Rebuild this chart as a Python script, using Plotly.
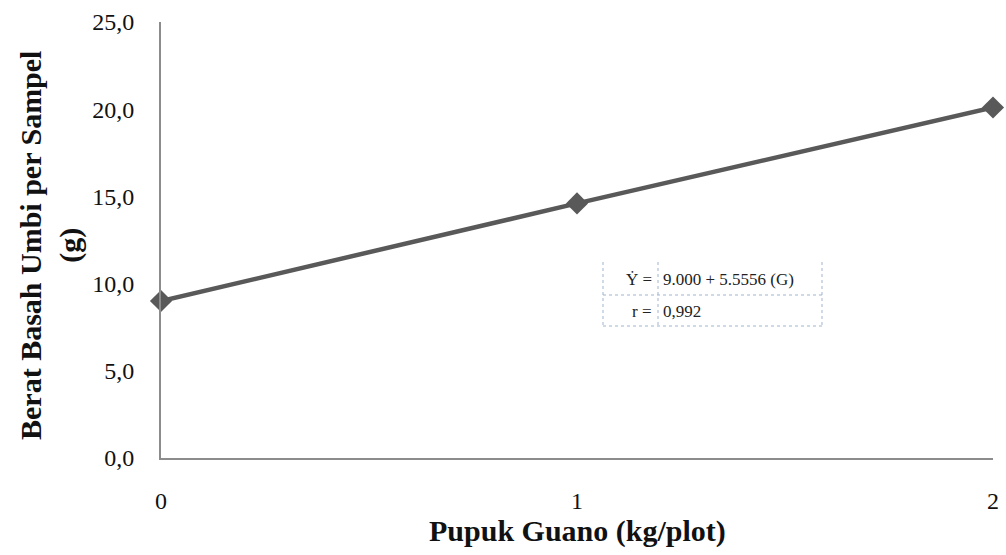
import plotly.graph_objects as go

x_vals = [0, 1, 2]
y_vals = [9.0, 14.6, 20.1]
y_ticks = [0, 5, 10, 15, 20, 25]
x_ticks = [0, 1, 2]
x_title = "Pupuk Guano (kg/plot)"
y_title = "Berat Basah Umbi per Sampel<br>(g)"
eq_label = "Ẏ ="
eq_text = "9.000 + 5.5556 (G)"
r_label = "r ="
r_text = "0,992"

SERIF = "Liberation Serif"
W, H = 1006, 555
L, R, T, B = 161, 13, 22, 97
pw, ph = W - L - R, H - T - B

def px(xp):
    return (xp - L) / pw

def py(yp):
    return (H - B - yp) / ph

fig = go.Figure()
fig.add_trace(go.Scatter(
    x=x_vals, y=y_vals, mode="lines+markers",
    line=dict(color="#595959", width=4.5),
    marker=dict(symbol="diamond", size=17, color="#595959"),
    cliponaxis=False, showlegend=False,
))

# table
tcol = "#9fb4cf"
x0, x1, xm = px(603), px(822), px(658)
y0, y1, ym = py(262), py(326), py(295)
shapes = []
for xx in (x0, xm, x1):
    shapes.append(dict(type="line", xref="paper", yref="paper", x0=xx, x1=xx, y0=y0, y1=y1,
                       line=dict(color=tcol, width=1, dash="dot")))
for yy in (ym, y1):
    shapes.append(dict(type="line", xref="paper", yref="paper", x0=x0, x1=x1, y0=yy, y1=yy,
                       line=dict(color=tcol, width=1, dash="dot")))
fig.update_layout(shapes=shapes)

tf = dict(family=SERIF, size=17, color="#222222")
fig.add_annotation(xref="paper", yref="paper", x=px(654), y=py(279), text=eq_label,
                   showarrow=False, xanchor="right", yanchor="middle", font=tf)
fig.add_annotation(xref="paper", yref="paper", x=px(661), y=py(279), text=eq_text,
                   showarrow=False, xanchor="left", yanchor="middle", font=tf)
fig.add_annotation(xref="paper", yref="paper", x=px(654), y=py(311), text=r_label,
                   showarrow=False, xanchor="right", yanchor="middle", font=tf)
fig.add_annotation(xref="paper", yref="paper", x=px(661), y=py(311), text=r_text,
                   showarrow=False, xanchor="left", yanchor="middle", font=tf)

# axis titles
titlef = dict(family=SERIF, size=30, color="#111111")
fig.add_annotation(xref="paper", yref="paper", x=px(577), y=py(531), text="<b>" + x_title + "</b>",
                   showarrow=False, xanchor="center", yanchor="middle", font=titlef)
fig.add_annotation(xref="paper", yref="paper", x=px(50), y=py(246), text="<b>" + y_title + "</b>",
                   showarrow=False, xanchor="center", yanchor="middle", textangle=-90,
                   font=titlef)

fig.update_layout(
    width=W, height=H,
    margin=dict(l=L, r=R, t=T, b=B, autoexpand=False),
    paper_bgcolor="white", plot_bgcolor="white",
    separators=",.",
    xaxis=dict(
        range=[0, 2], tickvals=x_ticks, ticktext=[str(v) for v in x_ticks],
        showgrid=False, zeroline=False, showline=True, linecolor="#8c8c8c", linewidth=2,
        ticks="", ticklabelstandoff=20, automargin=False,
        tickfont=dict(family=SERIF, size=24, color="#111111"),
    ),
    yaxis=dict(
        range=[0, 25], tickvals=y_ticks, tickformat=".1f",
        showgrid=False, zeroline=False, showline=True, linecolor="#8c8c8c", linewidth=2,
        ticks="", ticklabelstandoff=20, automargin=False,
        tickfont=dict(family=SERIF, size=24, color="#111111"),
    ),
)

fig.write_html("out.html", config={"displayModeBar": False},
               post_script="document.body.style.margin='0';")
